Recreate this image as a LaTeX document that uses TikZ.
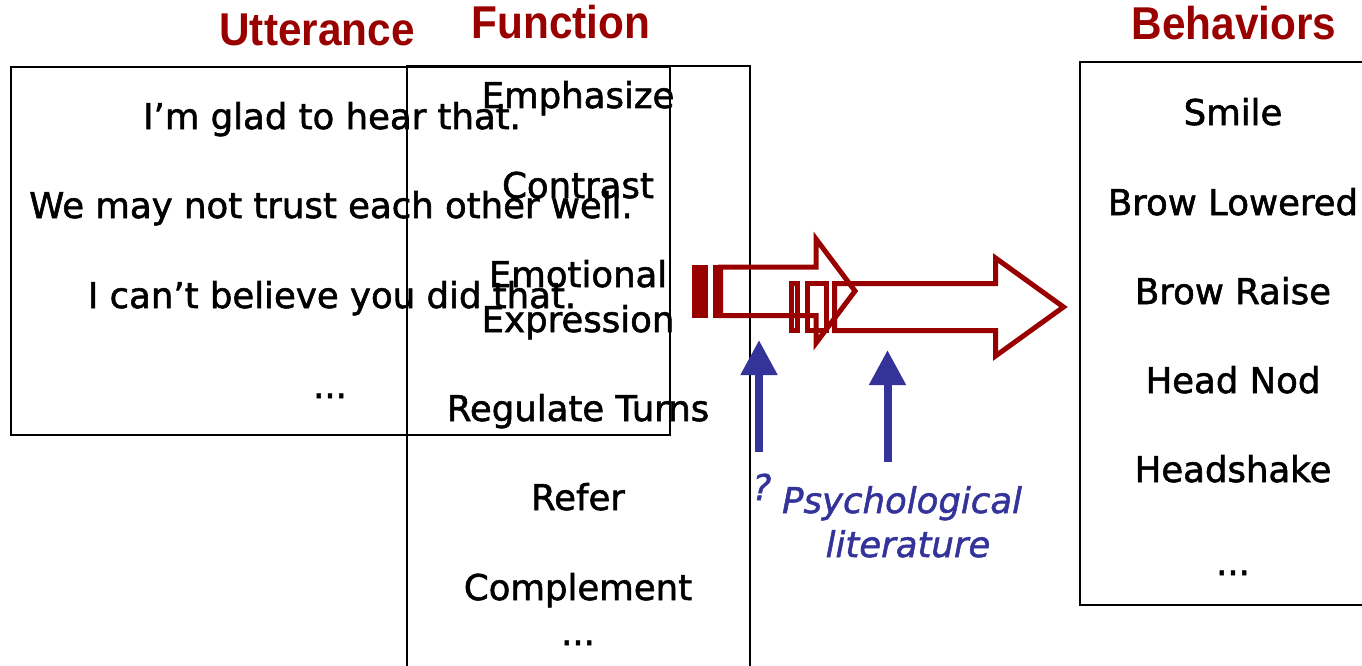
\documentclass[tikz,border=0pt]{standalone}
\usepackage{fontspec}
\setmainfont{DejaVu Sans}
\newfontfamily\bodyfont{DejaVu Sans}[FakeBold=1.6]
\newfontfamily\noteitfont{DejaVu Sans Oblique}[FakeBold=1.4]
\newfontfamily\titlefont{Liberation Sans}
\usetikzlibrary{arrows.meta}
\definecolor{darkred}{HTML}{990000}
\definecolor{navy}{HTML}{333399}
\newcommand{\ttl}[1]{\scalebox{0.92}[1]{#1}}
\tikzset{
  body/.style={anchor=base, inner sep=0pt, font=\bodyfont\fontsize{35.5}{44}\selectfont},
  title/.style={anchor=base, inner sep=0pt, text=darkred, font=\titlefont\bfseries\fontsize{46}{52}\selectfont},
  note/.style={anchor=base, inner sep=0pt, text=navy, font=\noteitfont\fontsize{35.5}{44}\selectfont},
  frame/.style={draw=black, line width=1.6pt},
  blockarrow/.style={draw=darkred, line width=5pt, miter limit=10},
  stripe/.style={fill=darkred},
  pointer/.style={draw=navy, line width=8pt, -{Triangle[length=35pt,width=35pt]}}
}
\begin{document}
\begin{tikzpicture}[x=1pt,y=-1pt]
\useasboundingbox (0,0) rectangle (1362,666);
\fill[white] (0,0) rectangle (1362,666);

% titles
\node[title] (tu) at (317,46) {\ttl{Utterance}};
\node[title] (tf) at (561,39) {\ttl{Function}};
\node[title] (tb) at (1234,40) {\ttl{Behaviors}};

% boxes
\draw[frame] (11,67) rectangle (670,435);
\draw[frame] (407,66) rectangle (750,680);
\draw[frame] (1080,62) rectangle (1375,605);

% utterance texts
\node[body] (u1) at (332,129) {I’m glad to hear that.};
\node[body] (u2) at (331,218) {We may not trust each other well.};
\node[body] (u3) at (332,308) {I can’t believe you did that.};
\node[body] (u4) at (330,398) {...};

% function texts
\node[body] (f1) at (578,108) {Emphasize};
\node[body] (f2) at (578,198) {Contrast};
\node[body] (f3) at (578,287) {Emotional};
\node[body] (f3b) at (578,332) {Expression};
\node[body] (f4) at (578,421) {Regulate Turns};
\node[body] (f5) at (578,510) {Refer};
\node[body] (f6) at (578,600) {Complement};
\node[body] (f7) at (578,645) {...};

% behaviors
\node[body] (b1) at (1233,125) {Smile};
\node[body] (b2) at (1233,215) {Brow Lowered};
\node[body] (b3) at (1233,304) {Brow Raise};
\node[body] (b4) at (1233,393) {Head Nod};
\node[body] (b5) at (1233,482) {Headshake};
\node[body] (b6) at (1233,575) {...};

% red striped block arrow 1
\fill[stripe] (692,264.5) rectangle (708,318);
\fill[stripe] (713,264.5) rectangle (723,318);
\draw[blockarrow] (720.5,267) -- (816,267) -- (816,239) -- (855,291) -- (816,343) -- (816,315.5) -- (720.5,315.5) -- cycle;

% red striped block arrow 2
\draw[blockarrow] (791.5,283.5) rectangle (797.5,330.5);
\draw[blockarrow] (807.5,283.5) rectangle (826.5,330.5);
\draw[blockarrow] (834.5,283.5) -- (995.5,283.5) -- (995.5,258) -- (1063.5,307) -- (995.5,356) -- (995.5,330.5) -- (834.5,330.5) -- cycle;

% blue pointers
\coordinate (p1s) at (759,452);
\coordinate (p1e) at (759,340);
\coordinate (p2s) at (887.5,462);
\coordinate (p2e) at (887.5,350);
\draw[pointer] (p1s) -- (p1e);
\draw[pointer] (p2s) -- (p2e);

% notes
\node[note] (q) at (762,500) {?};
\node[note] (n1) at (902,513) {Psychological};
\node[note] (n2) at (908,557) {literature};
\end{tikzpicture}
\end{document}
